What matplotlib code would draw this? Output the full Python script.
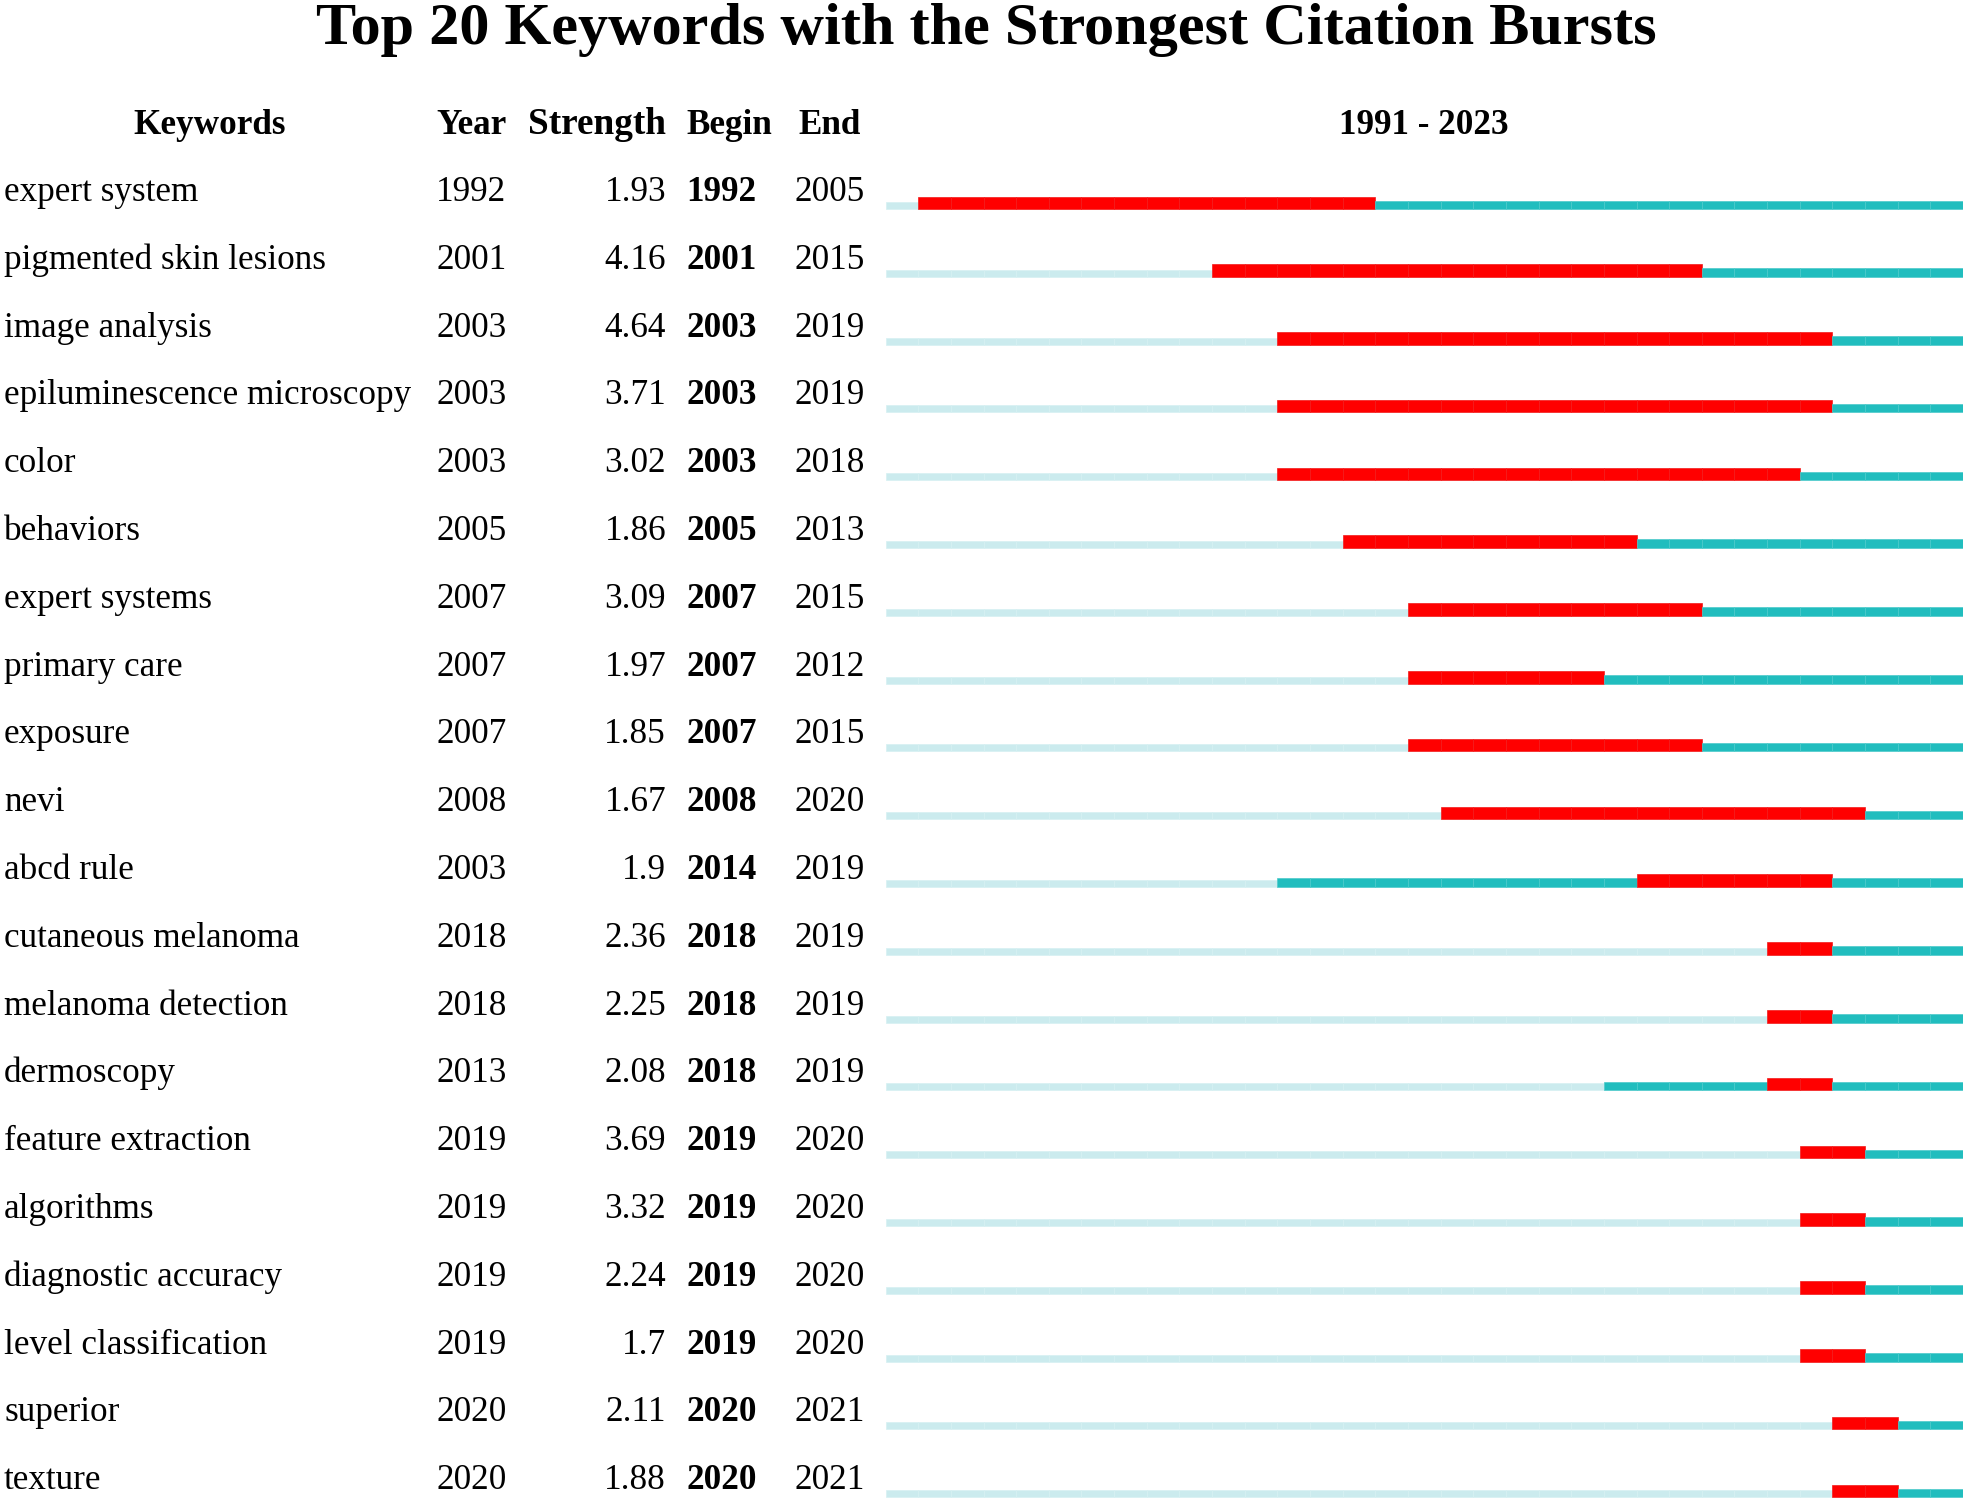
import matplotlib
matplotlib.use("Agg")
import matplotlib.pyplot as plt
from matplotlib.transforms import blended_transform_factory

keywords = ["expert system", "pigmented skin lesions", "image analysis",
            "epiluminescence microscopy", "color", "behaviors", "expert systems",
            "primary care", "exposure", "nevi", "abcd rule", "cutaneous melanoma",
            "melanoma detection", "dermoscopy", "feature extraction", "algorithms",
            "diagnostic accuracy", "level classification", "superior", "texture"]
years = [1992, 2001, 2003, 2003, 2003, 2005, 2007, 2007, 2007, 2008,
         2003, 2018, 2018, 2013, 2019, 2019, 2019, 2019, 2020, 2020]
strength = [1.93, 4.16, 4.64, 3.71, 3.02, 1.86, 3.09, 1.97, 1.85, 1.67,
            1.9, 2.36, 2.25, 2.08, 3.69, 3.32, 2.24, 1.7, 2.11, 1.88]
begin = [1992, 2001, 2003, 2003, 2003, 2005, 2007, 2007, 2007, 2008,
         2014, 2018, 2018, 2018, 2019, 2019, 2019, 2019, 2020, 2020]
end = [2005, 2015, 2019, 2019, 2018, 2013, 2015, 2012, 2015, 2020,
       2019, 2019, 2019, 2019, 2020, 2020, 2020, 2020, 2021, 2021]
span_start, span_end = 1991, 2023

W, H = 1969, 1501
FONT = "Liberation Serif"
FS = 25.3
LIGHT = "#CBEBEE"
LIGHT_E = "#D6F0F2"
TEAL = "#21BDBE"
TEAL_E = "#4CCACB"
RED = "#FF0000"
RED_E = "#F21A1A"

fig = plt.figure(figsize=(W / 100, H / 100), dpi=100)
fig.patch.set_facecolor("white")

row_h = 67.8
y0_pix = 209.0
ylim_top, ylim_bot = -1.0, 19.05
top_pix = y0_pix + row_h * ylim_top
bot_pix = y0_pix + row_h * ylim_bot
x_left, x_right = 885.6, 1963.0
ax = fig.add_axes([x_left / W, 1 - bot_pix / H, (x_right - x_left) / W, (bot_pix - top_pix) / H])
ax.set_xlim(span_start, span_end + 1)
ax.set_ylim(ylim_bot, ylim_top)
ax.axis("off")

hl = 7.0 / row_h
ht = 8.5 / row_h
hr = 12.5 / row_h
for i in range(len(keywords)):
    for yr in range(span_start, span_end + 1):
        if begin[i] <= yr <= end[i]:
            ax.barh(i, 1, left=yr, height=-hr, align="edge", color=RED,
                    edgecolor=RED_E, linewidth=0.5)
        elif yr >= years[i]:
            ax.barh(i, 1, left=yr, height=-ht, align="edge", color=TEAL,
                    edgecolor=TEAL_E, linewidth=0.5)
        else:
            ax.barh(i, 1, left=yr, height=-hl, align="edge", color=LIGHT,
                    edgecolor=LIGHT_E, linewidth=0.5)

tr = blended_transform_factory(fig.transFigure, ax.transData)
base_off = 8.0 / row_h
for i in range(len(keywords)):
    yb = i - base_off
    ax.text(4 / W, yb, keywords[i], transform=tr, ha="left", va="baseline",
            family=FONT, fontsize=FS, clip_on=False)
    ax.text(436 / W, yb, str(years[i]), transform=tr, ha="left", va="baseline",
            family=FONT, fontsize=FS, clip_on=False)
    ax.text(666 / W, yb, str(strength[i]), transform=tr, ha="right", va="baseline",
            family=FONT, fontsize=FS, clip_on=False)
    ax.text(686 / W, yb, str(begin[i]), transform=tr, ha="left", va="baseline",
            family=FONT, fontsize=FS, fontweight="bold", clip_on=False)
    ax.text(794 / W, yb, str(end[i]), transform=tr, ha="left", va="baseline",
            family=FONT, fontsize=FS, clip_on=False)

hy = 1 - 134 / H
fig.text(210 / W, hy, "Keywords", ha="center", va="baseline", family=FONT,
         fontsize=FS, fontweight="bold")
fig.text(436 / W, hy, "Year", ha="left", va="baseline", family=FONT,
         fontsize=FS, fontweight="bold")
fig.text(666 / W, hy, "Strength", ha="right", va="baseline", family=FONT,
         fontsize=FS + 1.5, fontweight="bold")
fig.text(686 / W, hy, "Begin", ha="left", va="baseline", family=FONT,
         fontsize=FS, fontweight="bold")
fig.text(798 / W, hy, "End", ha="left", va="baseline", family=FONT,
         fontsize=FS, fontweight="bold")
fig.text(((x_left + x_right) / 2) / W, hy, f"{span_start} - {span_end}", ha="center",
         va="baseline", family=FONT, fontsize=FS, fontweight="bold")

fig.text(986 / W, 1 - 44 / H, "Top 20 Keywords with the Strongest Citation Bursts",
         ha="center", va="baseline", family=FONT, fontsize=43.4, fontweight="bold")

fig.savefig("out.png", dpi=100, facecolor="white")
